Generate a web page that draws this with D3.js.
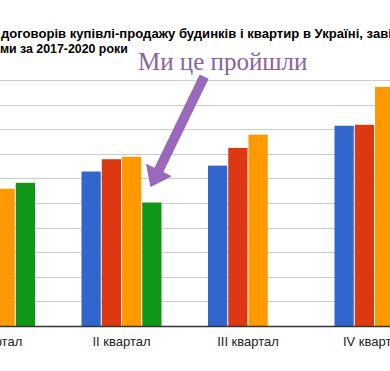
<!DOCTYPE html>
<html>
<head>
<meta charset="utf-8">
<script src="https://cdnjs.cloudflare.com/ajax/libs/d3/7.8.5/d3.min.js"></script>
<style>
  body { margin: 0; background: white; overflow: hidden; }
  svg { display: block; }
</style>
</head>
<body>
<div id="chart-area"></div>
<script>
// data
const quarters = ["I квартал", "II квартал", "III квартал", "IV квартал"]
const years = ["2017", "2018", "2019", "2020"]
const values2017 = [24000, 31400, 32600, 40700]
const values2018 = [26500, 33900, 36200, 40900]
const values2019 = [27900, 34400, 38900, 48600]
const values2020 = [29100, 25100, null, null]
const yTicks = [0, 5000, 10000, 15000, 20000, 25000, 30000, 35000, 40000, 45000, 50000]
const colors = ["#3366cc", "#dc3912", "#ff9900", "#109618"]

const titleLines = [
    "Кількість договорів купівлі-продажу будинків і квартир в Україні, завірених",
    "нотаріусами за 2017-2020 роки"
]

const width = 390, height = 371

const svg = d3.select("#chart-area").append("svg")
    .attr("width", width)
    .attr("height", height)
    .attr("style", "background: white")

const rows = years.map((yr, i) => ({
    year: yr,
    values: [values2017, values2018, values2019, values2020][i]
}))

// scales - the chart is cropped, its left axis sits off screen
const x = d3.scaleBand()
    .domain(quarters)
    .range([-68.25, 437.75])
    .paddingInner(0.3676)
    .paddingOuter(0.1838)

const xi = d3.scaleBand()
    .domain(years)
    .range([0, x.bandwidth()])
    .paddingInner(0.05)

const y = d3.scaleLinear()
    .domain([0, 50000])
    .range([326, 80])

// gridlines (y labels are outside the crop)
svg.append("g")
    .attr("class", "grid")
    .selectAll("line")
    .data(yTicks.slice(1))
    .join("line")
    .attr("x1", 0)
    .attr("x2", width)
    .attr("y1", d => Math.round(y(d)) + 0.5)
    .attr("y2", d => Math.round(y(d)) + 0.5)
    .attr("stroke", "#cccccc")
    .attr("stroke-width", 1)

// bars
const groups = svg.append("g")
    .selectAll("g")
    .data(rows)
    .join("g")
    .attr("fill", (d, i) => colors[i])

groups.selectAll("rect")
    .data(d => d.values.map((v, qi) => ({ year: d.year, quarter: quarters[qi], value: v }))
        .filter(d => d.value != null))
    .join("rect")
    .attr("x", d => x(d.quarter) + xi(d.year))
    .attr("y", d => y(d.value))
    .attr("width", xi.bandwidth())
    .attr("height", d => y(0) - y(d.value))

// x axis
const xAxisCall = d3.axisBottom(x).tickSize(0).tickPadding(11)
const xAxis = svg.append("g")
    .attr("class", "x axis")
    .attr("transform", `translate(0, ${y(0)})`)
    .call(xAxisCall)
xAxis.select(".domain").remove()
xAxis.selectAll("text")
    .attr("font-family", "Liberation Sans, Arial, sans-serif")
    .attr("font-size", "13px")
    .attr("fill", "#222222")

svg.append("line")
    .attr("x1", 0)
    .attr("x2", width)
    .attr("y1", y(0) + 0.5)
    .attr("y2", y(0) + 0.5)
    .attr("stroke", "#333333")
    .attr("stroke-width", 1.5)

// title, cropped on the left; each line is fitted between two anchors
const titleBaselines = [38.5, 53.5]
const titleAnchors = [
    { from: "договорів", fromX: 1, to: "в Україні", toX: 303 },
    { from: "ми за", fromX: 0, to: null, toX: 128 }
]
titleLines.forEach((line, i) => {
    const a = titleAnchors[i]
    const t = svg.append("text")
        .attr("y", titleBaselines[i])
        .attr("font-family", "Liberation Sans, Arial, sans-serif")
        .attr("font-size", "13px")
        .attr("font-weight", "bold")
        .attr("fill", "#000000")
        .text(line)
    const node = t.node()
    const i0 = line.indexOf(a.from)
    const p0 = i0 > 0 ? node.getSubStringLength(0, i0) : 0
    const p1 = a.to ? node.getSubStringLength(0, line.indexOf(a.to)) : node.getComputedTextLength()
    const k = (a.toX - a.fromX) / (p1 - p0)
    t.attr("x", 0)
        .attr("transform", `translate(${a.fromX - p0 * k}, 0) scale(${k}, 1)`)
})

// annotation
svg.append("text")
    .attr("x", 138)
    .attr("y", 70)
    .attr("font-family", "Liberation Serif, Times New Roman, serif")
    .attr("font-size", "25px")
    .attr("fill", "#8a62a4")
    .text("Ми це пройшли")

// arrow pointing at the 2020 bar of the II quarter
const tip = [x("II квартал") + xi("2020") + xi.bandwidth() / 2 - 1, y(values2020[1]) - 16]
const start = [204, 77]
const dx = tip[0] - start[0], dy = tip[1] - start[1]
const len = Math.sqrt(dx * dx + dy * dy)
const u = [dx / len, dy / len]
const n = [-u[1], u[0]]
const headLen = 18, shaftW = 4.5, headW = 13.5
const base = [tip[0] - u[0] * headLen, tip[1] - u[1] * headLen]
const pt = (p, k) => [p[0] + n[0] * k, p[1] + n[1] * k]
const arrowPts = [
    pt(start, shaftW), pt(base, shaftW), pt(base, headW), tip,
    pt(base, -headW), pt(base, -shaftW), pt(start, -shaftW)
]
svg.append("path")
    .attr("d", d3.line()(arrowPts) + "Z")
    .attr("fill", "#9b69bb")
    .attr("stroke", "#8d5fae")
    .attr("stroke-width", 0.8)
    .attr("stroke-linejoin", "round")
</script>
</body>
</html>
